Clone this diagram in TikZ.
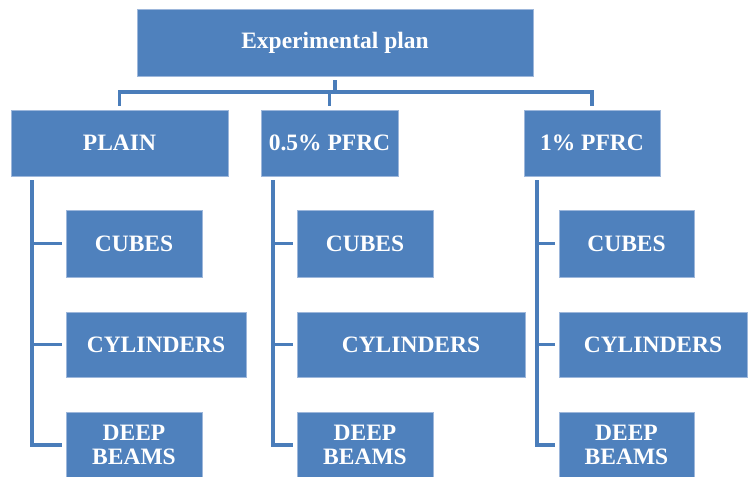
\documentclass[tikz,border=0pt]{standalone}
\usepackage{fontspec}
\setmainfont{Liberation Serif}
\definecolor{boxblue}{HTML}{4F81BD}
\definecolor{boxedge}{HTML}{9DB7DB}
\definecolor{linkblue}{HTML}{4A7DBA}
\begin{document}
\begin{tikzpicture}[x=1pt,y=-1pt,
  box/.style={rectangle,fill=boxblue,draw=boxedge,line width=0.8pt,inner sep=0pt,
    text=white,font=\fontsize{23.5}{24}\selectfont\bfseries,align=center},
  conn/.style={draw=linkblue,line width=3.5pt,line cap=butt,line join=miter},
  gap/.style={shorten <=4pt,shorten >=4pt}]
\useasboundingbox (0,0) rectangle (748,477);
% top
\node[box,minimum width=396pt,minimum height=67pt] (top) at (335,42.5) {Experimental plan};
% level 2
\node[box,minimum width=217pt,minimum height=66pt] (p1) at (119.5,143) {PLAIN};
\node[box,minimum width=137pt,minimum height=66pt] (p2) at (329.5,143) {0.5\% PFRC};
\node[box,minimum width=136pt,minimum height=66pt] (p3) at (592,143) {1\% PFRC};
% column 1
\node[box,minimum width=136pt,minimum height=67pt] (c1) at (134,243.5) {CUBES};
\node[box,minimum width=180pt,minimum height=65pt] (y1) at (156,344.5) {CYLINDERS};
\node[box,minimum width=136pt,minimum height=66pt] (d1) at (134,445) {DEEP\\BEAMS};
% column 2
\node[box,minimum width=136pt,minimum height=67pt] (c2) at (365,243.5) {CUBES};
\node[box,minimum width=228pt,minimum height=65pt] (y2) at (411,344.5) {CYLINDERS};
\node[box,minimum width=136pt,minimum height=66pt] (d2) at (365,445) {DEEP\\BEAMS};
% column 3
\node[box,minimum width=135pt,minimum height=67pt] (c3) at (626.5,243.5) {CUBES};
\node[box,minimum width=188pt,minimum height=65pt] (y3) at (653,344.5) {CYLINDERS};
\node[box,minimum width=135pt,minimum height=66pt] (d3) at (626.5,445) {DEEP\\BEAMS};
% bus
\coordinate (bus) at (335,92);
\draw[conn,shorten <=4pt] (top.south) -- (bus);
\draw[conn,gap] (p1.north) |- (bus) -| (p3.north);
\draw[conn,shorten <=4pt] (p2.north) -- (p2.north |- bus);
% rails
\coordinate (r1) at (32,176);
\coordinate (r2) at (273,176);
\coordinate (r3) at (537,176);
\draw[conn,gap] (r1) |- (d1.west);
\draw[conn,gap] (r2) |- (d2.west);
\draw[conn,gap] (r3) |- (d3.west);
\draw[conn,shorten >=4pt] (c1.west -| r1) -- (c1.west);
\draw[conn,shorten >=4pt] (y1.west -| r1) -- (y1.west);
\draw[conn,shorten >=4pt] (c2.west -| r2) -- (c2.west);
\draw[conn,shorten >=4pt] (y2.west -| r2) -- (y2.west);
\draw[conn,shorten >=4pt] (c3.west -| r3) -- (c3.west);
\draw[conn,shorten >=4pt] (y3.west -| r3) -- (y3.west);
\end{tikzpicture}
\end{document}
